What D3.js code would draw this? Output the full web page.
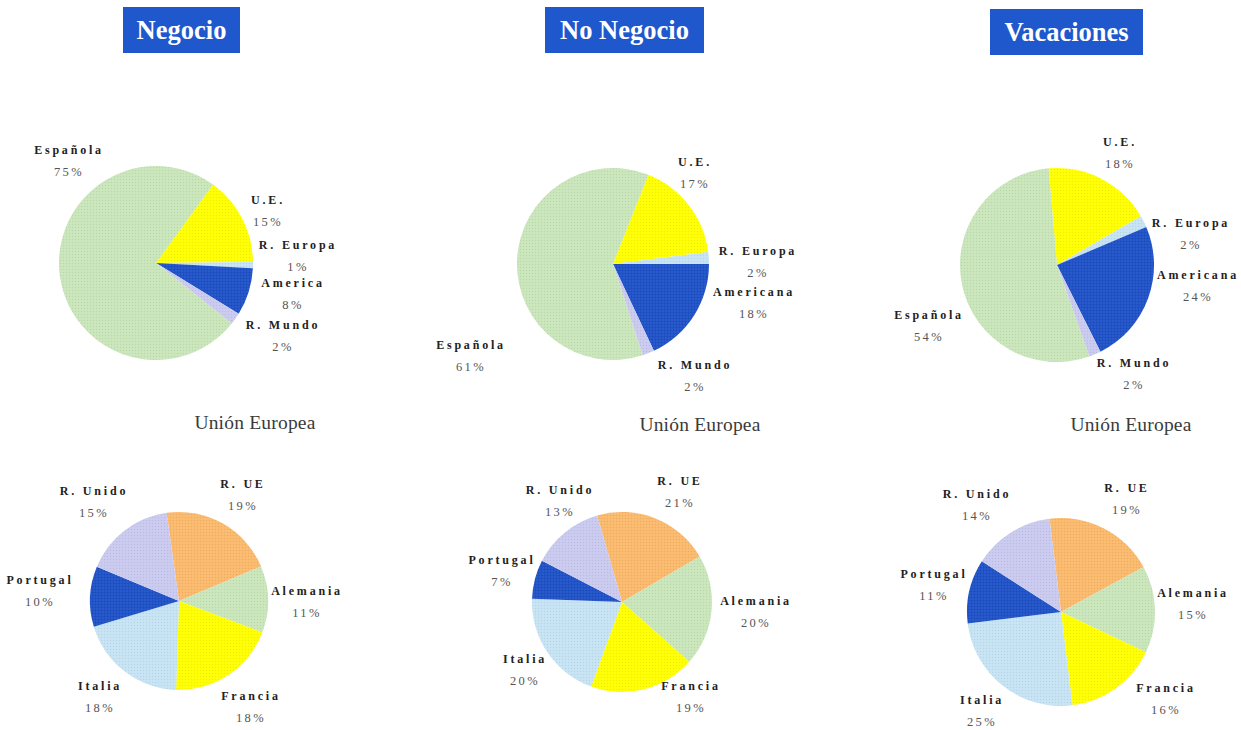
<!DOCTYPE html>
<html>
<head>
<meta charset="utf-8">
<script src="https://cdn.jsdelivr.net/npm/d3@7"></script>
<style>
  html, body { margin: 0; padding: 0; background: #fff; }
  svg { display: block; }
  .name { font-family: "Liberation Serif", "Times New Roman", serif; font-weight: bold; font-size: 12px; letter-spacing: 2.8px; fill: #222; }
  .pct  { font-family: "Liberation Serif", "Times New Roman", serif; font-size: 12.5px; letter-spacing: 2.4px; fill: #555; }
  .sub  { font-family: "Liberation Serif", "Times New Roman", serif; font-size: 19.5px; letter-spacing: 0.2px; fill: #3a3a3a; }
  .ttl  { font-family: "Liberation Serif", "Times New Roman", serif; font-weight: bold; font-size: 26.5px; fill: #fff; }
</style>
</head>
<body>
<svg id="chart" width="1241" height="730"></svg>
<script>
// ---- Data ----
const panelTitles = ["Negocio", "No Negocio", "Vacaciones"];
const subTitle = "Unión Europea";

// Origin of travellers (top row)
const negocioLabels    = ["U.E.", "R. Europa", "America",   "R. Mundo", "Española"];
const negocioValues    = [15, 1, 8, 2, 75];
const noNegocioLabels  = ["U.E.", "R. Europa", "Americana", "R. Mundo", "Española"];
const noNegocioValues  = [17, 2, 18, 2, 61];
const vacacionesLabels = ["U.E.", "R. Europa", "Americana", "R. Mundo", "Española"];
const vacacionesValues = [18, 2, 24, 2, 54];

// European Union breakdown (bottom row)
const ueCategories       = ["R. UE", "Alemania", "Francia", "Italia", "Portugal", "R. Unido"];
const ueNegocioValues    = [19, 11, 18, 18, 10, 15];
const ueNoNegocioValues  = [21, 20, 19, 20, 7, 13];
const ueVacacionesValues = [19, 15, 16, 25, 11, 14];

// ---- Colours ----
const topColor = d3.scaleOrdinal()
  .domain(["U.E.", "R. Europa", "America", "Americana", "R. Mundo", "Española"])
  .range(["#ffff00", "#c6e3f4", "#1f52c6", "#1f52c6", "#cacaf0", "#c9e5ba"]);
const ueColor = d3.scaleOrdinal()
  .domain(ueCategories)
  .range(["#fbb96c", "#c9e5ba", "#ffff00", "#c6e3f4", "#1f52c6", "#cacaf0"]);

// ---- Layout ----
const deg = Math.PI / 180;
const pies = [
  { labels: negocioLabels, values: negocioValues, color: topColor, cx: 156, cy: 263, r: 97, start: 36,
    offs: [[112,-63],[142,-18],[137,20],[127,62],[-87,-113]] },
  { labels: noNegocioLabels, values: noNegocioValues, color: topColor, cx: 613, cy: 264, r: 96, start: 21.6,
    offs: [[82,-102],[145,-13],[141,28],[82,101],[-142,81]] },
  { labels: vacacionesLabels, values: vacacionesValues, color: topColor, cx: 1057, cy: 265, r: 97, start: -5,
    offs: [[63,-123],[134,-42],[141,10],[77,98],[-128,50]] },
  { labels: ueCategories, values: ueNegocioValues, color: ueColor, cx: 179, cy: 601, r: 89, start: -8,
    offs: [[64,-117],[128,-10],[72,95],[-79,85],[-139,-21],[-85,-110]] },
  { labels: ueCategories, values: ueNoNegocioValues, color: ueColor, cx: 622, cy: 602, r: 90, start: -16,
    offs: [[58,-121],[134,-1],[69,84],[-97,57],[-120,-42],[-62,-112]] },
  { labels: ueCategories, values: ueVacacionesValues, color: ueColor, cx: 1061, cy: 612, r: 94, start: -7,
    offs: [[66,-124],[132,-19],[105,76],[-79,88],[-127,-38],[-84,-118]] }
];
const titleBoxes = [
  { x: 123, y: 7, w: 117, h: 46 },
  { x: 545, y: 7, w: 159, h: 46 },
  { x: 990, y: 9, w: 153, h: 46 }
];
const subCenters = [[255, 429], [700, 431], [1131, 431]];

const svg = d3.select("#chart");

// fine halftone grain laid over every slice
const defs = svg.append("defs");
const grain = defs.append("pattern").attr("id", "grain")
  .attr("width", 3).attr("height", 3).attr("patternUnits", "userSpaceOnUse");
grain.append("rect").attr("x", 0).attr("y", 0).attr("width", 1).attr("height", 1).attr("fill", "#000").attr("opacity", 0.07);
grain.append("rect").attr("x", 1.5).attr("y", 1.5).attr("width", 1).attr("height", 1).attr("fill", "#fff").attr("opacity", 0.18);

// title boxes
titleBoxes.forEach((b, i) => {
  svg.append("rect").attr("x", b.x).attr("y", b.y).attr("width", b.w).attr("height", b.h).attr("fill", "#1f58cc");
  svg.append("text").attr("class", "ttl").attr("x", b.x + b.w / 2).attr("y", b.y + 32)
    .attr("text-anchor", "middle").text(panelTitles[i]);
});

// sub-titles over the EU pies
subCenters.forEach(c => {
  svg.append("text").attr("class", "sub").attr("x", c[0]).attr("y", c[1]).attr("text-anchor", "middle").text(subTitle);
});

// pies
pies.forEach(p => {
  const rows = p.labels.map((l, i) => ({ label: l, value: p.values[i], off: p.offs[i] }));
  const pie = d3.pie().value(d => d.value).sort(null)
    .startAngle(p.start * deg).endAngle(p.start * deg + 2 * Math.PI);
  const arc = d3.arc().innerRadius(0).outerRadius(p.r);
  const g = svg.append("g").attr("transform", `translate(${p.cx},${p.cy})`);
  const arcs = pie(rows);
  g.selectAll("path.slice").data(arcs).join("path").attr("class", "slice")
    .attr("d", arc).attr("fill", d => p.color(d.data.label));
  g.selectAll("path.grain").data(arcs).join("path").attr("class", "grain")
    .attr("d", arc).attr("fill", "url(#grain)");
  const lab = g.selectAll("g.lab").data(rows).join("g").attr("class", "lab")
    .attr("transform", d => `translate(${d.off[0]},${d.off[1]})`);
  lab.append("text").attr("class", "name").attr("text-anchor", "middle").attr("y", 4).text(d => d.label);
  lab.append("text").attr("class", "pct").attr("text-anchor", "middle").attr("y", 26).text(d => d.value + "%");
});
</script>
</body>
</html>
